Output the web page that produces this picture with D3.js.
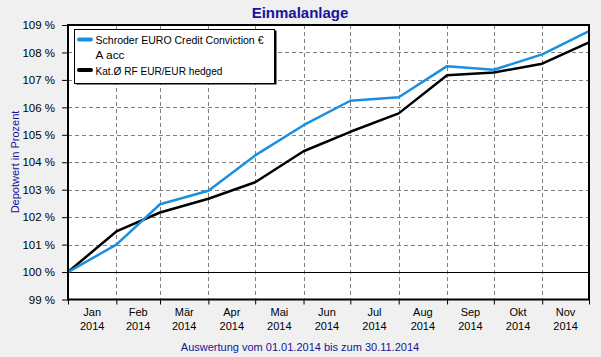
<!DOCTYPE html>
<html><head><meta charset="utf-8">
<script src="https://cdn.jsdelivr.net/npm/d3@7"></script>
<style>
html,body{margin:0;padding:0;background:#f0f0f0;}
svg{display:block;font-family:Arial,"Liberation Sans",sans-serif;}
</style></head>
<body>
<svg id="c" width="601" height="357"></svg>
<script>
const title = "Einmalanlage";
const yAxisTitle = "Depotwert in Prozent";
const footnote = "Auswertung vom 01.01.2014 bis zum 30.11.2014";
const dates = ["2014-01-01","2014-02-01","2014-03-01","2014-04-01","2014-05-01","2014-06-01","2014-07-01","2014-08-01","2014-09-01","2014-10-01","2014-11-01","2014-12-01"];
const fundValues = [100, 101.0, 102.47, 102.96, 104.25, 105.35, 106.24, 106.37, 107.50, 107.37, 107.93, 108.78];
const benchValues = [100, 101.48, 102.17, 102.67, 103.27, 104.40, 105.11, 105.78, 107.17, 107.27, 107.59, 108.37];
const monthLabels = ["Jan","Feb","Mär","Apr","Mai","Jun","Jul","Aug","Sep","Okt","Nov"];
const yearLabel = "2014";
const yTicks = [99,100,101,102,103,104,105,106,107,108,109];
const seriesNames = ["Schroder EURO Credit Conviction €", "A acc", "Kat.Ø RF EUR/EUR hedged"];
const seriesColors = ["#1a8fe0", "#000000"];

const svg = d3.select("#c");
const parse = d3.utcParse("%Y-%m-%d");
const D = dates.map(parse);
const L = 68, R = 589, T = 25, B = 299.5;
const x = d3.scaleUtc().domain([D[0], D[D.length-1]]).range([L, R]);
const y = d3.scaleLinear().domain([99,109]).range([B, T]);
const navy = "#15159a";

svg.append("rect").attr("x",L).attr("y",T).attr("width",R-L).attr("height",B-T).attr("fill","#fff");

// grid
const g = svg.append("g");
yTicks.filter(v => v>99 && v<109 && v!==100).forEach(v => {
  g.append("line").attr("x1",L).attr("x2",R).attr("y1",Math.round(y(v))+0.5).attr("y2",Math.round(y(v))+0.5)
   .attr("stroke","#808080").attr("stroke-dasharray","4,3");
});
D.slice(1,-1).forEach(d => {
  g.append("line").attr("x1",Math.round(x(d))+0.5).attr("x2",Math.round(x(d))+0.5).attr("y1",T).attr("y2",B)
   .attr("stroke","#808080").attr("stroke-dasharray","4,3");
});
g.append("line").attr("x1",L).attr("x2",R).attr("y1",Math.round(y(100))+0.5).attr("y2",Math.round(y(100))+0.5)
  .attr("stroke","#000").attr("stroke-width",1);

// y axis
const ya = d3.axisLeft(y).tickValues(yTicks).tickSize(6).tickFormat(d => d + " %");
const yg = svg.append("g").attr("transform",`translate(${L},0)`).call(ya);
yg.select(".domain").remove();
yg.selectAll("text").attr("font-size","11.5px").attr("fill","#000").attr("font-family","Arial,'Liberation Sans',sans-serif").attr("dx","-4");

// x axis ticks
const xa = d3.axisBottom(x).tickValues(D).tickSize(5).tickFormat("");
const xg = svg.append("g").attr("transform",`translate(0,${B})`).call(xa);
xg.select(".domain").remove();
monthLabels.forEach((m,i) => {
  const cx = (x(D[i]) + x(D[i+1]))/2;
  svg.append("text").attr("x",cx).attr("y",316).attr("text-anchor","middle").attr("font-size","11px").text(m);
  svg.append("text").attr("x",cx).attr("y",330).attr("text-anchor","middle").attr("font-size","11px").text(yearLabel);
});

// lines
const line = d3.line().x((d,i) => x(D[i])).y(d => y(d));
svg.append("path").datum(benchValues).attr("d",line).attr("fill","none").attr("stroke",seriesColors[1]).attr("stroke-width",2.5).attr("stroke-linejoin","round");
svg.append("path").datum(fundValues).attr("d",line).attr("fill","none").attr("stroke",seriesColors[0]).attr("stroke-width",2.5).attr("stroke-linejoin","round");

// frame
svg.append("rect").attr("x",L).attr("y",T).attr("width",R-L).attr("height",B-T).attr("fill","none").attr("stroke","#000").attr("stroke-width",2);

// legend
const lg = svg.append("g");
lg.append("rect").attr("x",76.5).attr("y",30.5).attr("width",200).attr("height",54).attr("fill","#000");
lg.append("rect").attr("x",74.5).attr("y",29.5).attr("width",200).attr("height",54).attr("fill","#fff").attr("stroke","#000").attr("stroke-width",1);
lg.append("line").attr("x1",79).attr("x2",91).attr("y1",39.5).attr("y2",39.5).attr("stroke",seriesColors[0]).attr("stroke-width",4).attr("stroke-linecap","round");
lg.append("line").attr("x1",79).attr("x2",91).attr("y1",70).attr("y2",70).attr("stroke",seriesColors[1]).attr("stroke-width",4).attr("stroke-linecap","round");
const legLens = [168, 29, 127];
[44, 58.5, 74.5].forEach((yy,i) => {
  lg.append("text").attr("x",95.5).attr("y",yy).attr("font-size","11.5px")
    .attr("textLength",legLens[i]).attr("lengthAdjust","spacingAndGlyphs").text(seriesNames[i]);
});

// titles
svg.append("text").attr("x",300).attr("y",17.5).attr("text-anchor","middle").attr("font-size","15px").attr("font-weight","bold").attr("fill",navy).text(title);
svg.append("text").attr("transform","translate(19,162) rotate(-90)").attr("text-anchor","middle").attr("font-size","11px").attr("fill",navy).text(yAxisTitle);
svg.append("text").attr("x",300).attr("y",351).attr("text-anchor","middle").attr("font-size","11px").attr("fill",navy).text(footnote);
</script>
</body></html>
